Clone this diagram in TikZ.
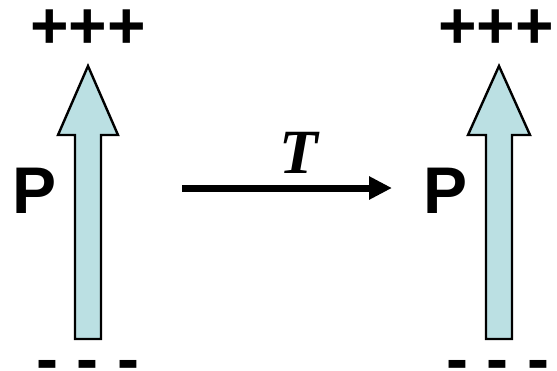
\documentclass[tikz,border=0pt]{standalone}
\usepackage{fontspec}
\setmainfont{Liberation Sans}
\newfontfamily\tserif{Liberation Serif}
\usetikzlibrary{arrows.meta}
\definecolor{dipole}{HTML}{BBE0E3}
\tikzset{
  dipolearrow/.style={draw=black, line width=2.4pt, fill=dipole, line join=miter},
  biglabel/.style={inner sep=0pt, anchor=base, font=\fontsize{66}{70}\selectfont\bfseries},
  tlabel/.style={inner sep=0pt, anchor=base, font=\fontsize{63}{66}\selectfont\tserif\bfseries\itshape},
  trans/.style={line width=7pt, -{Triangle[length=23pt,width=22pt]}}
}
\begin{document}
\begin{tikzpicture}[x=1pt,y=-1pt]
\useasboundingbox (0,0) rectangle (557,370);
% left dipole
\draw[dipolearrow] (88,66) -- (118,135) -- (101,135) -- (101,339) -- (75,339) -- (75,135) -- (58,135) -- cycle;
% right dipole
\draw[dipolearrow] (499,66) -- (530,135) -- (512,135) -- (512,339) -- (486,339) -- (486,135) -- (468,135) -- cycle;
\node[biglabel] (plusL) at (88,48) {+++};
\node[biglabel] (plusR) at (496,48) {+++};
\node[biglabel] (PL) at (35,213) {P};
\node[biglabel] (PR) at (446,213) {P};
\node[biglabel] (minL) at (88,381) {- - -};
\node[biglabel] (minR) at (498,381) {- - -};
\coordinate (ts) at (182,188);
\coordinate (te) at (392,188);
\draw[trans] (ts) -- (te);
\node[tlabel] (T) at (299,173) {T};
\end{tikzpicture}
\end{document}
